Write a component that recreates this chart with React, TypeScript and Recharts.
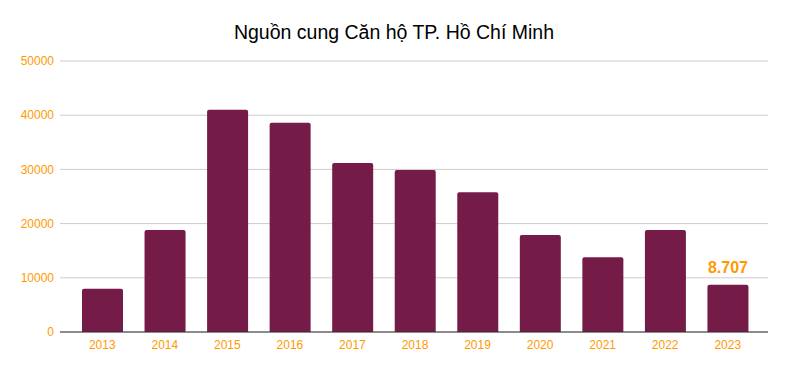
import { Bar, BarChart, CartesianGrid, LabelList, XAxis, YAxis } from "recharts";

// Nguồn cung căn hộ TP.HCM theo năm
const YEARS = ["2013", "2014", "2015", "2016", "2017", "2018", "2019", "2020", "2021", "2022", "2023"];
const SUPPLY = [8000, 18800, 41000, 38600, 31200, 29900, 25800, 17900, 13800, 18800, 8707];
const BAR_LABELS = ["", "", "", "", "", "", "", "", "", "", "8.707"];
const Y_TICKS = [0, 10000, 20000, 30000, 40000, 50000];

const BAR = "#741b47";
const ORANGE = "#ff9900";
const GRID = "#cccccc";
const FONT = "Arial, 'Liberation Sans', sans-serif";

const data = YEARS.map((year, i) => ({ year, supply: SUPPLY[i], label: BAR_LABELS[i] }));

export default function App() {
  return (
    <div style={{ position: "absolute", left: 0, top: 0, width: 788, height: 371, background: "#fff", fontFamily: FONT }}>
      <div
        style={{
          position: "absolute",
          top: 21,
          left: 0,
          width: 788,
          textAlign: "center",
          fontSize: 19.5,
          color: "#000",
        }}
      >
        Nguồn cung Căn hộ TP. Hồ Chí Minh
      </div>
      <BarChart
        width={788}
        height={371}
        data={data}
        margin={{ top: 61, right: 20, left: 0, bottom: 9 }}
        barSize={41}
      >
        <CartesianGrid stroke={GRID} vertical={false} />
        <XAxis
          dataKey="year"
          tick={{ fontSize: 12, fill: ORANGE, fontFamily: FONT }}
          stroke="#333"
          tickLine={false}
          padding={{ left: 11, right: 9 }}
          height={30}
          interval={0}
        />
        <YAxis
          domain={[0, 50000]}
          ticks={Y_TICKS}
          tick={{ fontSize: 12, fill: ORANGE, fontFamily: FONT }}
          axisLine={false}
          tickLine={false}
          tickMargin={0}
          width={60}
        />
        <Bar dataKey="supply" fill={BAR} radius={[2, 2, 0, 0]} isAnimationActive={false}>
          <LabelList
            dataKey="label"
            position="top"
            offset={12}
            style={{ fontSize: 16, fontWeight: "bold", fill: ORANGE, fontFamily: FONT }}
          />
        </Bar>
      </BarChart>
    </div>
  );
}
